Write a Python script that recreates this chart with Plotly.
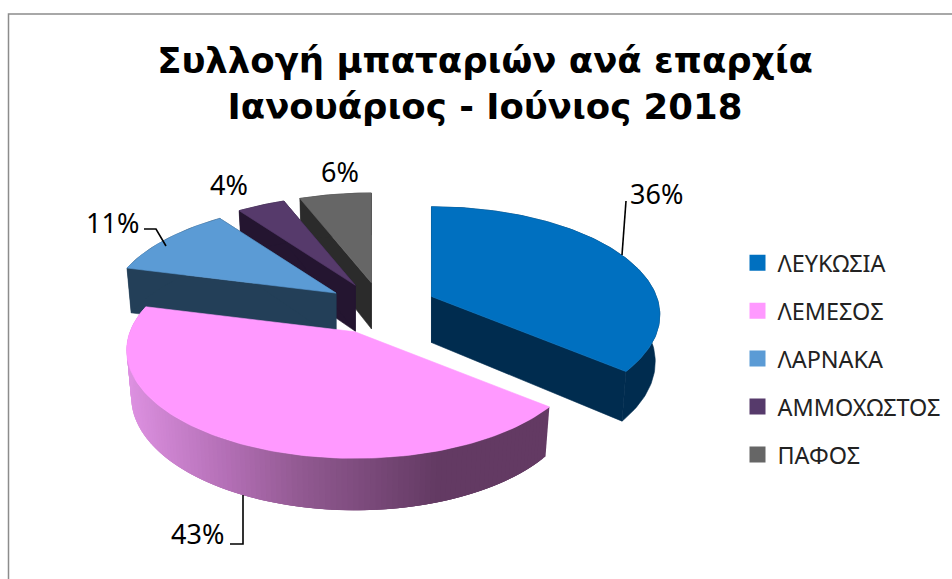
import numpy as np
import plotly.graph_objects as go

categories = ["ΛΕΥΚΩΣΙΑ", "ΛΕΜΕΣΟΣ", "ΛΑΡΝΑΚΑ", "ΑΜΜΟΧΩΣΤΟΣ", "ΠΑΦΟΣ"]
values = [36, 43, 11, 4, 6]
labels = ["36%", "43%", "11%", "4%", "6%"]
top_colors = ["#0070c0", "#ff99ff", "#5b9bd5", "#563a6b", "#666666"]
wall_colors = ["#002c4f", None, "#233f58", "#241530", "#2b2b2b"]
title_lines = ["Συλλογή μπαταριών ανά επαρχία", "Ιανουάριος - Ιούνιος 2018"]

# projection of the exploded, tilted pie into the pixel-sized axes
CX, CY, RX, RY, K, EXPLODE, DEPTH = 381.5, 307.5, 225, 105, 0.17, 0.25, 46
DRAW_ORDER = [4, 3, 2, 0, 1]


def project(angle, radius=1.0):
    X, Y = radius * np.sin(angle), -radius * np.cos(angle)
    s = 1 / (1 - K * Y)
    return RX * X * s, RY * Y * s


def lower(px, py, ax, ay):
    dep = DEPTH + 6 * np.clip((py - ay) / 127, -1, 1)
    return ax + (px - ax) * 0.98, py + dep


def pink_shade(x):
    stops_x = [125, 230, 300, 440, 560]
    stops = np.array([[222, 146, 226], [178, 110, 180], [146, 90, 146], [99, 58, 99], [99, 58, 99]])
    return "rgb(%d,%d,%d)" % tuple(np.interp(x, stops_x, stops[:, i]) for i in range(3))


fig = go.Figure()


def poly(xs, ys, color, width=0.6):
    fig.add_trace(go.Scatter(x=list(xs), y=list(ys), mode="lines", fill="toself", fillcolor=color,
                             line=dict(color=color, width=width), hoverinfo="skip", showlegend=False))


total = sum(values)
edges = np.cumsum([0] + values) / total * 2 * np.pi
for i in DRAW_ORDER:
    a0, a1 = edges[i], edges[i + 1]
    mid = (a0 + a1) / 2
    ex, ey = project(mid, EXPLODE)
    ax, ay = CX + ex, CY + ey
    th = np.linspace(a0, a1, max(12, int(values[i] * 3)))
    px, py = zip(*[project(t) for t in th])
    px, py = ax + np.array(px), ay + np.array(py)
    lx, ly = zip(*[lower(a, b, ax, ay) for a, b in zip(px, py)])
    bax, bay = ax, ay + DEPTH
    # radial cut faces (the large slice's faces are hidden behind its own top)
    if wall_colors[i]:
        face = wall_colors[i]
        poly([ax, px[0], lx[0], bax, ax], [ay, py[0], ly[0], bay, ay], face)
        poly([ax, px[-1], lx[-1], bax, ax], [ay, py[-1], ly[-1], bay, ay], face)
        poly(list(px) + list(lx)[::-1], list(py) + list(ly)[::-1], face)
    else:
        n = len(px)
        for j in range(n - 1):
            e = min(j + 3, n - 1)  # overlap the next band so no seams show
            poly(list(px[j:e + 1]) + list(lx[j:e + 1])[::-1], list(py[j:e + 1]) + list(ly[j:e + 1])[::-1],
                 pink_shade((px[j] + px[j + 1]) / 2), width=0)
    # top surface
    poly([ax] + list(px) + [ax], [ay] + list(py) + [ay], top_colors[i])

# legend entries
for name, color in zip(categories, top_colors):
    fig.add_trace(go.Scatter(x=[None], y=[None], mode="markers", name=name, legendgroup=name,
                             marker=dict(symbol="square", size=16, color=color)))

label_pos = [(656, 193), (197, 533), (112, 222), (229, 184), (340, 171)]
for text, (x, y) in zip(labels, label_pos):
    fig.add_annotation(x=x, y=y, text=text, showarrow=False,
                       font=dict(family="Noto Sans", size=27, color="#000000"))

leaders = [[(626, 201), (622, 255)], [(243, 495), (243, 544), (230, 544)], [(144, 229), (156, 229), (166, 246)]]
shapes = [dict(type="path", xref="x", yref="y", path="M 8.5,600 L 8.5,14 L 960,14",
               line=dict(color="#8c8c8c", width=1.5), layer="below")]
for pts in leaders:
    path = "M " + " L ".join(f"{x},{y}" for x, y in pts)
    shapes.append(dict(type="path", xref="x", yref="y", path=path, line=dict(color="#000000", width=1.6)))

fig.update_layout(
    width=952, height=579, margin=dict(l=0, r=0, t=0, b=0),
    paper_bgcolor="#ffffff", plot_bgcolor="#ffffff", shapes=shapes,
    title=dict(text="<br>".join(title_lines), x=485 / 952, xanchor="center", y=1 - 73 / 579, yanchor="top",
               font=dict(family="DejaVu Sans", size=35.5, color="#000000", weight="bold")),
    xaxis=dict(range=[0, 952], visible=False, fixedrange=True),
    yaxis=dict(range=[579, 0], visible=False, fixedrange=True),
    legend=dict(x=737.5 / 952, y=1 - 241 / 579, xanchor="left", yanchor="top", bgcolor="rgba(0,0,0,0)",
                tracegroupgap=14.5, font=dict(family="Noto Sans", size=23.4, color="#222222")),
    hovermode=False,
)
fig.write_html("out.html", config=dict(displayModeBar=False),
               post_script="document.body.style.margin='0';document.documentElement.style.overflow='hidden';")
